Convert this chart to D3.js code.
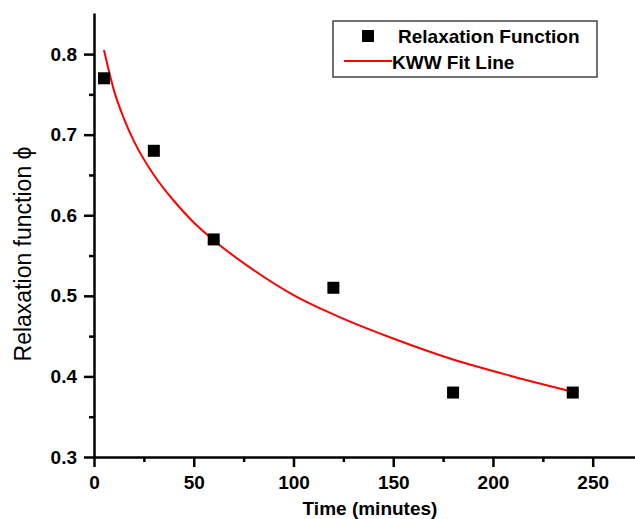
<!DOCTYPE html>
<html><head><meta charset="utf-8">
<script src="https://cdn.jsdelivr.net/npm/d3@7"></script>
<style>body{margin:0;background:#fff}svg{display:block}text{font-family:"Liberation Sans",Arial,sans-serif}</style>
</head><body>
<script>
const pointTime = [5, 30, 60, 120, 180, 240];
const pointPhi = [0.77, 0.68, 0.57, 0.51, 0.38, 0.38];
const fitTime = [5, 10, 15, 20, 30, 40, 50, 60, 80, 100, 120, 150, 180, 210, 240];
const fitPhi = [0.805, 0.755, 0.72, 0.692, 0.65, 0.618, 0.591, 0.569, 0.532, 0.501, 0.477, 0.447, 0.421, 0.400, 0.381];
const xTicks = [0, 50, 100, 150, 200, 250];
const xMinor = [25, 75, 125, 175, 225];
const yTicks = [0.3, 0.4, 0.5, 0.6, 0.7, 0.8];
const yMinor = [0.35, 0.45, 0.55, 0.65, 0.75];
const legendLabels = ["Relaxation Function", "KWW Fit Line"];

const W = 635, H = 519;
const svg = d3.select("body").append("svg").attr("width", W).attr("height", H);
const x = d3.scaleLinear().domain([0, 271.2]).range([94, 635]);
const y = d3.scaleLinear().domain([0.3, 0.851]).range([457, 13]);

// axes
const xAxis = d3.axisBottom(x).tickValues(xTicks).tickSize(10).tickSizeOuter(0).tickPadding(9).tickFormat(d3.format("d"));
svg.append("g").attr("transform", `translate(0,${y(0.3)})`).call(xAxis);
const xm = d3.axisBottom(x).tickValues(xMinor).tickSize(5).tickSizeOuter(0).tickFormat("");
svg.append("g").attr("transform", `translate(0,${y(0.3)})`).call(xm).select(".domain").remove();
const yAxis = d3.axisLeft(y).tickValues(yTicks).tickSize(10).tickSizeOuter(0).tickPadding(7).tickFormat(d3.format(".1f"));
svg.append("g").attr("transform", `translate(${x(0)},0)`).call(yAxis);
const ym = d3.axisLeft(y).tickValues(yMinor).tickSize(5).tickSizeOuter(0).tickFormat("");
svg.append("g").attr("transform", `translate(${x(0)},0)`).call(ym).select(".domain").remove();
svg.selectAll(".domain,.tick line").attr("stroke", "#000").attr("stroke-width", 2.5);
svg.selectAll(".tick text").attr("font-size", 19).attr("font-weight", "bold").attr("fill", "#000")
  .attr("font-family", "'Liberation Sans',Arial,sans-serif");

// titles
svg.append("text").attr("x", 370).attr("y", 515).attr("text-anchor", "middle")
  .attr("font-size", 19).attr("font-weight", "bold").text("Time (minutes)");
svg.append("text").attr("transform", "translate(31,254) rotate(-90)").attr("text-anchor", "middle")
  .attr("font-size", 23).text("Relaxation function \u03D5");

// fit line
const fitData = fitTime.map((t, i) => [t, fitPhi[i]]);
svg.append("path").datum(fitData)
  .attr("d", d3.line().x(d => x(d[0])).y(d => y(d[1])).curve(d3.curveMonotoneX))
  .attr("fill", "none").attr("stroke", "#ff0000").attr("stroke-width", 2);

// points
const s = 12;
svg.selectAll("rect.pt").data(pointTime.map((t, i) => [t, pointPhi[i]])).enter().append("rect")
  .attr("class", "pt").attr("x", d => x(d[0]) - s / 2).attr("y", d => y(d[1]) - s / 2)
  .attr("width", s).attr("height", s).attr("fill", "#000");

// legend
const lg = svg.append("g");
lg.append("rect").attr("x", 333).attr("y", 21).attr("width", 264).attr("height", 56)
  .attr("fill", "#fff").attr("stroke", "#444").attr("stroke-width", 1.5);
lg.append("rect").attr("x", 362).attr("y", 30).attr("width", 12).attr("height", 12).attr("fill", "#000");
lg.append("text").attr("x", 398).attr("y", 43).attr("font-size", 19).attr("font-weight", "bold").text(legendLabels[0]);
lg.append("line").attr("x1", 344).attr("x2", 392).attr("y1", 61).attr("y2", 61).attr("stroke", "#ff0000").attr("stroke-width", 2);
lg.append("text").attr("x", 392).attr("y", 69).attr("font-size", 19).attr("font-weight", "bold").text(legendLabels[1]);
</script>
</body></html>
